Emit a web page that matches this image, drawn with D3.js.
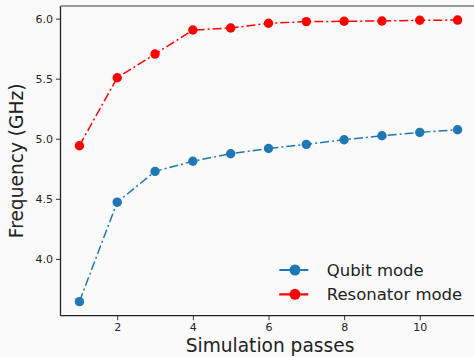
<!DOCTYPE html>
<html><head><meta charset="utf-8">
<script src="https://cdn.jsdelivr.net/npm/d3@7"></script>
<style>
html,body{margin:0;padding:0;background:#fafafa;}
svg{display:block;}
</style></head>
<body>
<svg id="chart" width="474" height="357"></svg>
<script>
const passes = [1,2,3,4,5,6,7,8,9,10,11];
const qubit = [3.644,4.472,4.728,4.813,4.875,4.919,4.953,4.992,5.025,5.053,5.075];
const resonator = [4.942,5.508,5.705,5.905,5.922,5.961,5.975,5.978,5.980,5.986,5.988];
const xTicks = [2,4,6,8,10];
const yTicks = [4.0,4.5,5.0,5.5,6.0];
const seriesNames = ["Qubit mode","Resonator mode"];
const seriesColors = ["#1f77b4","#ff0000"];

const svg = d3.select("#chart");
const mLeft = 60.5, mRight = 476.5, mTop = 6, mBottom = 315.7;
const x = d3.scaleLinear().domain([0.5,11.5]).range([mLeft,mRight]);
const y = d3.scaleLinear().domain([3.527,6.105]).range([mBottom,mTop]);

svg.append("rect").attr("width",474).attr("height",357).attr("fill","#fafafa");

const font = "DejaVu Sans, sans-serif";

const xAxis = svg.append("g").attr("transform",`translate(0,${mBottom})`)
  .call(d3.axisBottom(x).tickValues(xTicks).tickFormat(d3.format("d")).tickSize(4.5).tickPadding(3));
const yAxis = svg.append("g").attr("transform",`translate(${mLeft},0)`)
  .call(d3.axisLeft(y).tickValues(yTicks).tickFormat(d3.format(".1f")).tickSize(4.5).tickPadding(3));
[xAxis,yAxis].forEach(g=>{
  g.select(".domain").remove();
  g.selectAll(".tick line").attr("stroke","#333").attr("stroke-width",1);
  g.selectAll(".tick text").attr("font-family",font).attr("font-size","11px").attr("fill","#222");
});

svg.append("line").attr("x1",mLeft).attr("x2",mLeft).attr("y1",mTop).attr("y2",mBottom).attr("stroke","#222").attr("stroke-width",1.3);
svg.append("line").attr("x1",mLeft).attr("x2",mRight).attr("y1",mBottom).attr("y2",mBottom).attr("stroke","#222").attr("stroke-width",1.3);
svg.append("line").attr("x1",mLeft).attr("x2",mRight).attr("y1",mTop).attr("y2",mTop).attr("stroke","#777").attr("stroke-width",1.5);

const dash = "9,3,2,3";
const line = d3.line().x((d,i)=>x(passes[i])).y(d=>y(d));
[qubit,resonator].forEach((vals,k)=>{
  svg.append("path").datum(vals).attr("d",line).attr("fill","none")
    .attr("stroke",seriesColors[k]).attr("stroke-width",1.5).attr("stroke-dasharray",dash);
  svg.selectAll(null).data(vals).enter().append("circle")
    .attr("cx",(d,i)=>x(passes[i])).attr("cy",d=>y(d)).attr("r",4.7).attr("fill",seriesColors[k]);
});

const lg = svg.append("g");
seriesNames.forEach((name,k)=>{
  const ly = 270 + k*24.3;
  lg.append("line").attr("x1",279.3).attr("x2",312.7).attr("y1",ly).attr("y2",ly)
    .attr("stroke",seriesColors[k]).attr("stroke-width",2.2).attr("stroke-dasharray","17,4,8,20");
  lg.append("circle").attr("cx",295).attr("cy",ly).attr("r",5.5).attr("fill",seriesColors[k]);
  lg.append("text").attr("x",326.7).attr("y",ly).attr("dy","0.36em")
    .attr("font-family",font).attr("font-size","16.5px").attr("fill","#222").text(name);
});

svg.append("text").attr("x",270).attr("y",352)
  .attr("text-anchor","middle").attr("font-family",font).attr("font-size","18.6px").attr("fill","#222")
  .text("Simulation passes");
svg.append("text").attr("transform",`translate(23,${(mTop+mBottom)/2}) rotate(-90)`)
  .attr("text-anchor","middle").attr("font-family",font).attr("font-size","18.6px").attr("fill","#222")
  .text("Frequency (GHz)");
</script>
</body></html>
